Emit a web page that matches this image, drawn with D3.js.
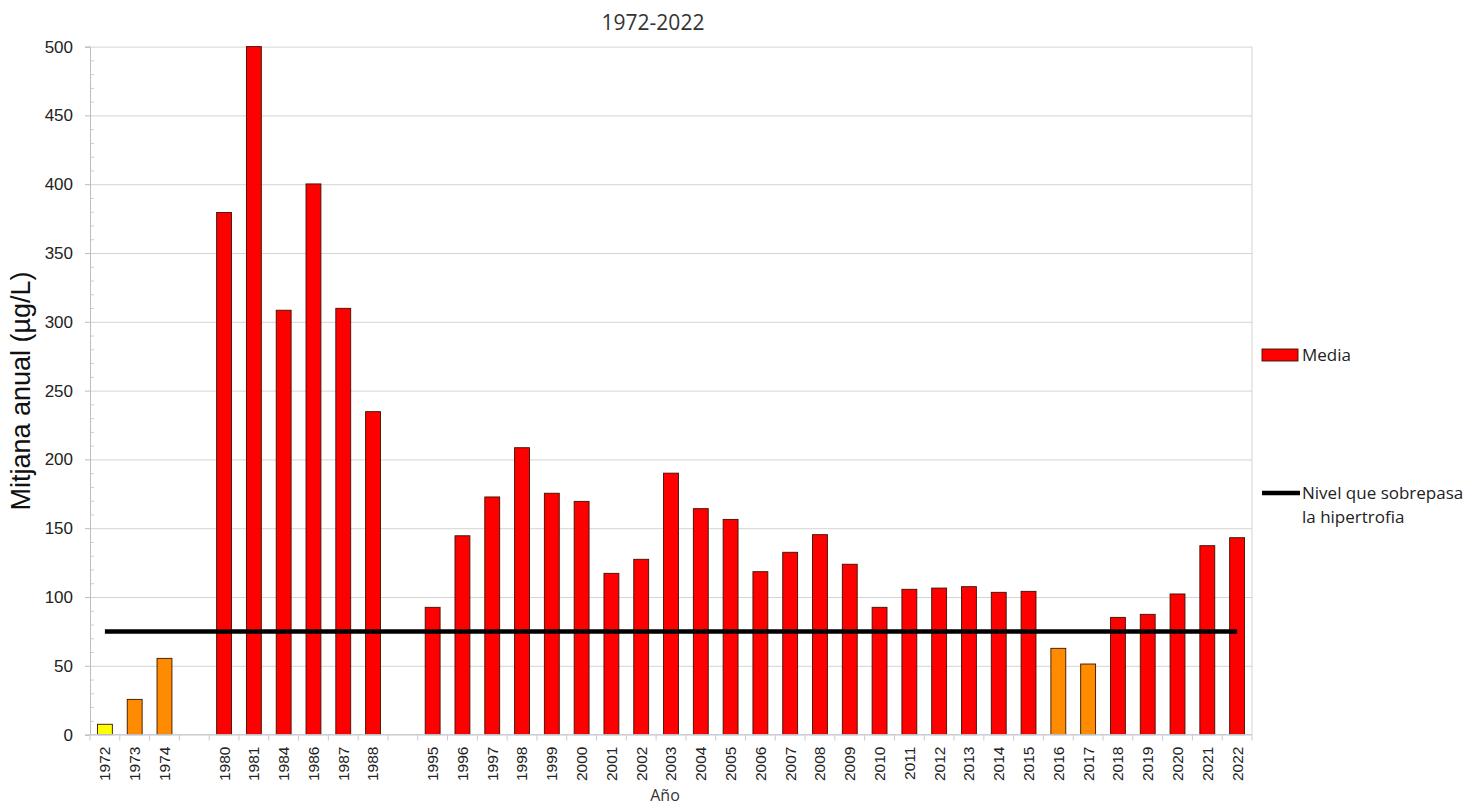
<!DOCTYPE html>
<html>
<head>
<meta charset="utf-8">
<script src="https://cdn.jsdelivr.net/npm/d3@7"></script>
<style>
  body { margin: 0; background: #fff; }
  svg { display: block; }
</style>
</head>
<body>
<svg id="chart" width="1482" height="809"></svg>
<script>
// Categories on the x axis; "" marks an empty slot between periods.
const categorias = ["1972", "1973", "1974", "", "1980", "1981", "1984", "1986", "1987", "1988", "",
  "1995", "1996", "1997", "1998", "1999", "2000", "2001", "2002", "2003", "2004", "2005",
  "2006", "2007", "2008", "2009", "2010", "2011", "2012", "2013", "2014", "2015", "2016",
  "2017", "2018", "2019", "2020", "2021", "2022"];

// Annual mean (µg/L), null for the empty slots.
const media = [7.5, 25.6, 55.4, null, 379.4, 500, 308.4, 400.2, 309.8, 234.7, null,
  92.5, 144.5, 172.7, 208.5, 175.4, 169.5, 117.2, 127.4, 190, 164.2, 156.4,
  118.4, 132.5, 145.3, 123.8, 92.5, 105.6, 106.5, 107.5, 103.4, 104.1, 62.7,
  51.3, 85.2, 87.4, 102.2, 137.3, 143.1];

// Bar colour class per slot: y = yellow, o = orange, r = red.
const estado = ["y", "o", "o", "", "r", "r", "r", "r", "r", "r", "",
  "r", "r", "r", "r", "r", "r", "r", "r", "r", "r", "r",
  "r", "r", "r", "r", "r", "r", "r", "r", "r", "r", "o",
  "o", "r", "r", "r", "r", "r"];

// Hypertrophy threshold
const umbral = 75;

const yTicks = d3.range(0, 501, 50);
const yMinor = d3.range(0, 501, 10);

const colores = { y: "#ffff00", o: "#ff8c00", r: "#ff0000" };

(function () {
  const svg = d3.select("#chart");
  const mLeft = 90, mRight = 1252, mTop = 46.6, mBottom = 734.6;
  const W = mRight - mLeft;

  const x = d3.scaleBand().domain(d3.range(categorias.length)).range([mLeft, mRight]).padding(0);
  const y = d3.scaleLinear().domain([0, 500]).range([mBottom, mTop]);

  // Horizontal gridlines
  svg.append("g")
    .attr("transform", `translate(${mLeft},0)`)
    .call(d3.axisLeft(y).tickValues(yTicks).tickSize(-W).tickFormat(""))
    .call(g => g.select(".domain").remove())
    .call(g => g.selectAll("line").attr("stroke", "#d4d4d4").attr("stroke-width", 1));

  // Minor y ticks (inside)
  svg.append("g")
    .attr("transform", `translate(${mLeft},0)`)
    .call(d3.axisRight(y).tickValues(yMinor.filter(v => v % 50 !== 0)).tickSize(4).tickFormat(""))
    .call(g => g.select(".domain").remove())
    .call(g => g.selectAll("line").attr("stroke", "#cfcfcf"));

  // Y axis with labels
  svg.append("g")
    .attr("transform", `translate(${mLeft},0)`)
    .call(d3.axisLeft(y).tickValues(yTicks).tickSize(5).tickPadding(12))
    .call(g => g.select(".domain").attr("stroke", "#bdbdbd"))
    .call(g => g.selectAll("line").attr("stroke", "#bdbdbd"))
    .call(g => g.selectAll("text")
      .attr("font-family", "'Liberation Sans', Arial, sans-serif")
      .attr("font-size", 17).attr("fill", "#222"));

  // Right border of the plot area
  svg.append("line")
    .attr("x1", mRight).attr("x2", mRight).attr("y1", mTop).attr("y2", mBottom)
    .attr("stroke", "#d4d4d4");

  // Bars
  const bw = x.bandwidth() * 0.5;
  svg.append("g")
    .selectAll("rect")
    .data(media.map((v, i) => ({ v, i })).filter(d => d.v != null))
    .join("rect")
    .attr("x", d => x(d.i) + (x.bandwidth() - bw) / 2)
    .attr("y", d => y(d.v))
    .attr("width", bw)
    .attr("height", d => y(0) - y(d.v))
    .attr("fill", d => colores[estado[d.i]])
    .attr("stroke", "#3a1200")
    .attr("stroke-width", 0.9);

  // Threshold line across every year
  const linea = d3.line().x(d => x(d.i) + x.bandwidth() / 2).y(y(umbral));
  svg.append("path")
    .datum(categorias.map((c, i) => ({ c, i })).filter(d => d.c !== ""))
    .attr("d", linea)
    .attr("fill", "none")
    .attr("stroke", "#000")
    .attr("stroke-width", 4.5);

  // X axis: baseline and slot-boundary ticks
  svg.append("line")
    .attr("x1", mLeft).attr("x2", mRight).attr("y1", mBottom).attr("y2", mBottom)
    .attr("stroke", "#c8ccd4");
  svg.append("g")
    .selectAll("line")
    .data(d3.range(categorias.length + 1))
    .join("line")
    .attr("x1", i => i < categorias.length ? x(i) : mRight)
    .attr("x2", i => i < categorias.length ? x(i) : mRight)
    .attr("y1", mBottom).attr("y2", mBottom + 6)
    .attr("stroke", "#c8ccd4");

  // X labels
  svg.append("g")
    .attr("transform", `translate(0,${mBottom})`)
    .call(d3.axisBottom(x).tickSize(0).tickFormat(i => categorias[i]))
    .call(g => g.select(".domain").remove())
    .call(g => g.selectAll("text")
      .attr("transform", "rotate(-90)")
      .attr("x", -12).attr("y", 0).attr("dy", "0.35em")
      .style("text-anchor", "end")
      .attr("font-family", "'Liberation Sans', Arial, sans-serif")
      .attr("font-size", 15.5).attr("fill", "#222"));

  // Titles
  svg.append("text")
    .attr("x", 653).attr("y", 30)
    .attr("text-anchor", "middle")
    .attr("font-family", "'Open Sans', sans-serif")
    .attr("font-size", 21).attr("fill", "#333")
    .text("1972-2022");

  svg.append("text")
    .attr("x", 665).attr("y", 801)
    .attr("text-anchor", "middle")
    .attr("font-family", "'Open Sans', sans-serif")
    .attr("font-size", 16).attr("fill", "#333")
    .text("Año");

  svg.append("text")
    .attr("transform", "translate(30,391) rotate(-90)")
    .attr("text-anchor", "middle")
    .attr("font-family", "'Liberation Sans', Arial, sans-serif")
    .attr("font-size", 27).attr("fill", "#111")
    .text("Mitjana anual (µg/L)");

  // Legend
  const leg = svg.append("g").attr("font-family", "'Open Sans', sans-serif")
    .attr("font-size", 17).attr("fill", "#222");
  leg.append("rect")
    .attr("x", 1262).attr("y", 349).attr("width", 36).attr("height", 12)
    .attr("fill", colores.r).attr("stroke", "#3a1200").attr("stroke-width", 0.9);
  leg.append("text").attr("x", 1302).attr("y", 361).text("Media");
  leg.append("line")
    .attr("x1", 1262).attr("x2", 1300).attr("y1", 493).attr("y2", 493)
    .attr("stroke", "#000").attr("stroke-width", 4.5);
  leg.append("text").attr("x", 1302).attr("y", 499).text("Nivel que sobrepasa");
  leg.append("text").attr("x", 1302).attr("y", 523).text("la hipertrofia");
})();
</script>
</body>
</html>
